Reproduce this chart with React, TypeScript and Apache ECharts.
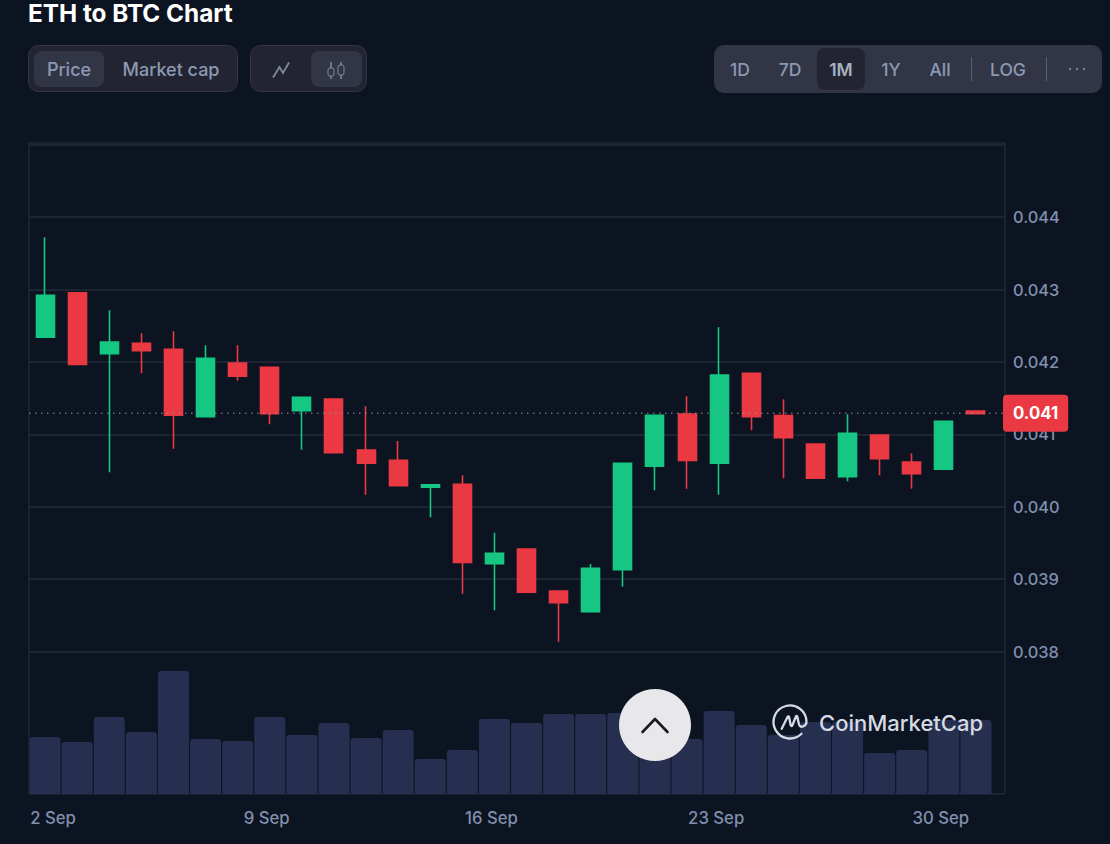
import React, { useEffect, useRef } from "react";
import * as echarts from "echarts";

const days = [
  "2 Sep","3 Sep","4 Sep","5 Sep","6 Sep","7 Sep","8 Sep","9 Sep","10 Sep","11 Sep",
  "12 Sep","13 Sep","14 Sep","15 Sep","16 Sep","17 Sep","18 Sep","19 Sep","20 Sep","21 Sep",
  "22 Sep","23 Sep","24 Sep","25 Sep","26 Sep","27 Sep","28 Sep","29 Sep","30 Sep","1 Oct",
];
const opens = [
  0.042327,0.042942,0.042101,0.042244,0.042161,0.041232,0.041972,0.041913,0.041314,0.041476,
  0.040772,0.04063,0.040258,0.040299,0.039204,0.039407,0.038828,0.038542,0.039121,0.040548,
  0.041269,0.040589,0.04183,0.041246,0.040855,0.040404,0.040979,0.040607,0.040506,0.04131,
];
const closes = [
  0.042906,0.041954,0.042262,0.042142,0.041251,0.042037,0.041789,0.041273,0.041499,0.040735,
  0.040589,0.04028,0.040294,0.039223,0.039348,0.03881,0.038666,0.039141,0.040589,0.041251,
  0.04063,0.041807,0.041232,0.040942,0.040382,0.041003,0.040652,0.040446,0.041168,0.041273,
];
const lows = [
  0.042327,0.041954,0.040465,0.04183,0.04079,0.041232,0.041728,0.041127,0.040777,0.040735,
  0.040156,0.04028,0.039844,0.03879,0.038561,0.03881,0.038128,0.038542,0.038887,0.040217,
  0.040239,0.040156,0.041044,0.040382,0.040382,0.040341,0.040423,0.040239,0.040506,0.041273,
];
const highs = [
  0.043706,0.042942,0.042699,0.042382,0.04241,0.042217,0.042217,0.041913,0.041499,0.041476,
  0.041375,0.040897,0.040294,0.040423,0.039632,0.039407,0.038828,0.0392,0.040589,0.041251,
  0.041513,0.042465,0.04183,0.041472,0.040855,0.041265,0.040979,0.040727,0.041168,0.04131,
];
const volumes = [
  57,52,77,62,123,55,53,77,59,71,56,64,35,44,75,71,80,80,81,78,55,83,69,59,72,72,41,44,74,74,
];
const lastPrice = 0.04128;
const lastPriceLabel = "0.041";
const rangeLeft = ["Price", "Market cap"];
const rangeRight = ["1D", "7D", "1M", "1Y", "All", "LOG"];

const BG = "#0d1421";
const GRID = "#252b39";
const TICK = "#8090ad";
const UI_TEXT = "#8c99b3";
const UP = "#16c784";
const DOWN = "#ea3943";
const FONT = "Inter, sans-serif";

const logoPath =
  "M -8.3 6.7 L -2.5 -5 Q -1.5 -6.5 -0.8 -4.5 L 0.6 3 Q 1.2 5 2.5 3 L 5.8 -5.2 Q 6.8 -7 7.4 -5 L 9 2.5 Q 10 5.5 13 4.5 Q 16.5 3 16.5 0 A 16.5 16.5 0 1 0 11.5 11.8";
echarts.graphic.registerShape("cmcLogo", echarts.graphic.extendPath(logoPath, {}) as any);

function label(text: string, x: number, y: number, size: number, weight: number, fill: string, extra: any = {}) {
  return {
    type: "text",
    z: 10,
    style: {
      text, x, y, fill,
      font: `${weight} ${size}px ${FONT}`,
      textAlign: "center",
      textVerticalAlign: "middle",
      ...extra,
    },
  };
}
function box(x: number, y: number, w: number, h: number, r: number, fill: string, stroke?: string) {
  return {
    type: "rect",
    z: 9,
    shape: { x, y, width: w, height: h, r },
    style: { fill, stroke: stroke ?? "none", lineWidth: 1 },
  };
}
function seg(x1: number, y1: number, x2: number, y2: number, stroke: string, lineWidth = 1.5) {
  return { type: "line", z: 10, shape: { x1, y1, x2, y2 }, style: { stroke, lineWidth } };
}

export default function App() {
  const ref = useRef<HTMLDivElement>(null);
  useEffect(() => {
    document.body.style.margin = "0";
    document.body.style.background = BG;
    const chart = echarts.init(ref.current!, undefined, { renderer: "svg" });
    const graphic: any[] = [
      { type: "rect", z: 0, shape: { x: 29, y: 143, width: 976, height: 651 }, style: { fill: "none", stroke: "#2a303e", lineWidth: 1 } },
      label("ETH to BTC Chart", 28, 12.6, 24.3, 700, "#ffffff", { textAlign: "left" }),
      box(28.5, 45.5, 209, 46, 10, "#222531", "#323546"),
      box(34, 51, 70, 36, 8, "#323546"),
      label(rangeLeft[0], 69, 69, 18, 500, UI_TEXT),
      label(rangeLeft[1], 171, 69, 18, 500, UI_TEXT),
      box(250.5, 45.5, 116, 46, 10, "#222531", "#323546"),
      box(311, 51, 51, 36, 8, "#323546"),
      {
        type: "polyline", z: 10,
        shape: { points: [[273, 77.5], [279.5, 67], [283, 73], [289, 62.5]] },
        style: { stroke: "#808a9d", lineWidth: 1.8, fill: "none" },
      },
      seg(331, 62, 331, 68, "#808a9d"),
      seg(331, 76, 331, 79, "#808a9d"),
      box(328, 68, 6, 8, 2, "none", "#808a9d"),
      seg(341, 62, 341, 65, "#808a9d"),
      seg(341, 75, 341, 79, "#808a9d"),
      box(338, 65, 6, 10, 2, "none", "#808a9d"),
      box(714, 45, 388, 48, 10, "#323546"),
      box(817, 48, 48, 42, 8, "#222531"),
      label(rangeRight[0], 740, 69, 17.5, 500, UI_TEXT),
      label(rangeRight[1], 790, 69, 17.5, 500, UI_TEXT),
      label(rangeRight[2], 841, 69, 17.5, 600, "#a6b0c3"),
      label(rangeRight[3], 891, 69, 17.5, 500, UI_TEXT),
      label(rangeRight[4], 940, 69, 17.5, 500, UI_TEXT),
      label(rangeRight[5], 1008, 69, 17.5, 500, UI_TEXT),
      seg(971.5, 57, 971.5, 81, "#5a6072", 1),
      seg(1046.5, 57, 1046.5, 81, "#5a6072", 1),
      { type: "circle", z: 10, shape: { cx: 1070, cy: 69, r: 1 }, style: { fill: UI_TEXT } },
      { type: "circle", z: 10, shape: { cx: 1077, cy: 69, r: 1 }, style: { fill: UI_TEXT } },
      { type: "circle", z: 10, shape: { cx: 1084, cy: 69, r: 1 }, style: { fill: UI_TEXT } },
      {
        type: "cmcLogo", z: 11, x: 790, y: 722,
        style: { stroke: "#d5dae4", fill: "none", lineWidth: 2.3, lineCap: "round", lineJoin: "round" },
      },
      label("CoinMarketCap", 819, 723, 22, 500, "#d5dae4", { textAlign: "left" }),
      { type: "circle", z: 12, shape: { cx: 655, cy: 725, r: 36 }, style: { fill: "#e8e8ea" } },
      {
        type: "polyline", z: 13,
        shape: { points: [[642.5, 732], [655, 719], [667.5, 732]] },
        style: { stroke: "#171b26", lineWidth: 2.6, fill: "none", lineCap: "round", lineJoin: "round" },
      },
    ];
    chart.setOption({
      animation: false,
      backgroundColor: BG,
      graphic,
      grid: [
        { left: 29, top: 144.7, width: 976, height: 506.8 },
        { left: 29, top: 143.5, width: 963, height: 507.5 },
        { left: 29, top: 143.5, width: 976, height: 507.5 },
        { left: 29, top: 651, width: 963, height: 143 },
      ],
      xAxis: [
        { gridIndex: 0, type: "value", min: 0, max: 1, show: false },
        { gridIndex: 1, type: "category", data: days, show: false },
        { gridIndex: 2, type: "value", min: 0, max: 1, show: false },
        {
          gridIndex: 3,
          type: "category",
          data: days,
          axisLine: { show: false },
          axisTick: { show: false },
          splitLine: { show: false },
          axisLabel: {
            interval: (i: number) => i % 7 === 0,
            margin: 15,
            color: TICK,
            fontFamily: FONT,
            fontSize: 16.7,
            fontWeight: 500,
            formatter: (v: string, i: number) => (i === 0 ? `{first|${v}}` : `{rest|${v}}`),
            rich: {
              first: { color: TICK, fontFamily: FONT, fontSize: 16.7, fontWeight: 500, padding: [0, 0, 0, 16] },
              rest: { color: TICK, fontFamily: FONT, fontSize: 16.7, fontWeight: 500, padding: [0, 6, 0, 0] },
            },
          },
        },
      ],
      yAxis: [
        {
          gridIndex: 0,
          type: "value",
          position: "right",
          min: 0.038,
          max: 0.045,
          interval: 0.001,
          axisLine: { show: false },
          axisTick: { show: false },
          splitLine: { show: true, lineStyle: { color: GRID, width: 1.5 } },
          axisLabel: {
            margin: 8,
            color: TICK,
            fontFamily: FONT,
            fontSize: 16.4,
            fontWeight: 500,
            showMaxLabel: false,
            formatter: (v: number) => v.toFixed(3),
          },
        },
        { gridIndex: 1, type: "value", min: 0.038, max: 0.045, show: false },
        { gridIndex: 2, type: "value", min: 0.038, max: 0.045, show: false },
        { gridIndex: 3, type: "value", min: 0, max: 143, show: false },
      ],
      series: [
        {
          type: "bar",
          xAxisIndex: 3,
          yAxisIndex: 3,
          data: volumes,
          barWidth: 31,
          itemStyle: { color: "#262f4f", borderRadius: [3, 3, 0, 0] },
          silent: true,
        },
        {
          type: "candlestick",
          xAxisIndex: 1,
          yAxisIndex: 1,
          barWidth: 18.5,
          data: days.map((_, i) => [opens[i], closes[i], lows[i], highs[i]]),
          itemStyle: { color: UP, color0: DOWN, borderColor: UP, borderColor0: DOWN, borderWidth: 1.6 },
          silent: true,
          z: 3,
        },
        {
          type: "line",
          xAxisIndex: 2,
          yAxisIndex: 2,
          data: [[0, lastPrice], [1, lastPrice]],
          showSymbol: false,
          symbol: "none",
          z: 8,
          silent: true,
          lineStyle: { color: "#8e97aa", type: [1.5, 4.5], width: 1 },
          endLabel: {
            show: true,
            distance: -2,
            formatter: () => lastPriceLabel,
            backgroundColor: DOWN,
            color: "#ffffff",
            fontFamily: FONT,
            fontSize: 16.8,
            fontWeight: 700,
            padding: [10, 10, 10, 10],
            borderRadius: 4,
          },
        },
      ],
    });
    return () => chart.dispose();
  }, []);
  return <div ref={ref} style={{ position: "fixed", left: 0, top: 0, width: 1110, height: 844 }} />;
}
